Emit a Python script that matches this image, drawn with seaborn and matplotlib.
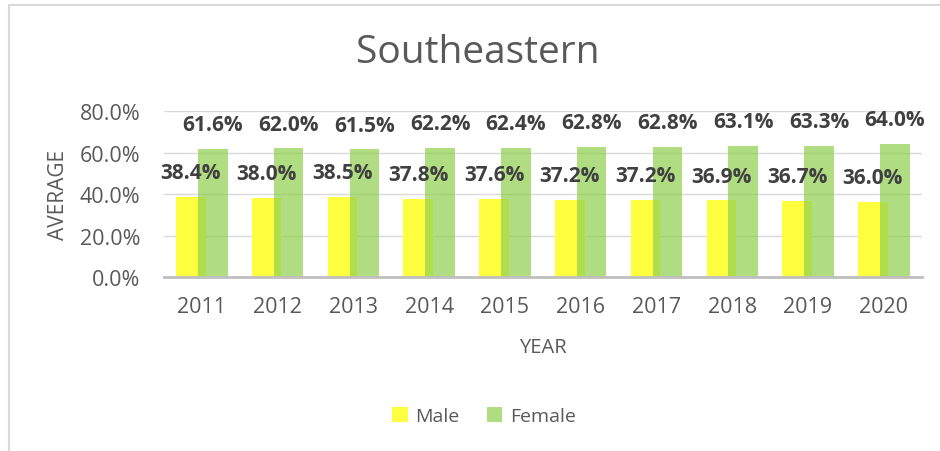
import pandas as pd
import matplotlib.pyplot as plt
import seaborn as sns
from matplotlib.lines import Line2D

# Data
years = ['2011', '2012', '2013', '2014', '2015', '2016', '2017', '2018', '2019', '2020']
male = [38.4, 38.0, 38.5, 37.8, 37.6, 37.2, 37.2, 36.9, 36.7, 36.0]
female = [61.6, 62.0, 61.5, 62.2, 62.4, 62.8, 62.8, 63.1, 63.3, 64.0]

df = pd.DataFrame({
    'Year': years * 2,
    'Value': male + female,
    'Sex': ['Male'] * len(years) + ['Female'] * len(years),
})

sns.set_style('white')
plt.rcParams['font.family'] = ['Open Sans', 'DejaVu Sans']

gray = '#595959'
fig = plt.figure(figsize=(9.4, 4.52), dpi=100)
ax = fig.add_axes([0.1745, 0.385, 0.806, 0.367])

sns.barplot(data=df, x='Year', y='Value', hue='Sex', palette=['#FFFF40', '#92D050'],
            width=0.58, saturation=1, ax=ax, legend=False, linewidth=0, edgecolor='none')

# make the bars overlap like the Excel original
bar_w = 0.39
for p in ax.patches:
    c = p.get_x() + p.get_width() / 2
    p.set_width(bar_w)
    p.set_x(c - bar_w / 2)
    p.set_linewidth(0)
for p in ax.containers[1]:
    p.set_alpha(0.72)

for cont in ax.containers:
    ax.bar_label(cont, labels=[f'{v:.1f}%' for v in cont.datavalues], padding=10,
                 fontsize=15, fontweight='bold', color='#404040')

ax.set_ylim(0, 80)
ax.set_xlim(-0.5, 9.5)
ax.set_yticks([0, 20, 40, 60, 80])
ax.set_yticklabels([f'{v:.1f}%' for v in [0, 20, 40, 60, 80]])
ax.yaxis.grid(True, color='#D9D9D9', linewidth=1)
ax.set_axisbelow(True)
for s in ['top', 'right', 'left']:
    ax.spines[s].set_visible(False)
ax.spines['bottom'].set_color('#BFBFBF')
ax.spines['bottom'].set_linewidth(2)
ax.tick_params(axis='both', length=0, labelsize=15.5, labelcolor=gray)
ax.tick_params(axis='x', pad=14)
ax.tick_params(axis='y', pad=17)
ax.set_ylabel('AVERAGE', fontsize=15, color=gray, labelpad=8)
ax.set_xlabel('YEAR', fontsize=14.5, color=gray, labelpad=14)

fig.text(0.508, 0.883, 'Southeastern', ha='center', va='center', fontsize=28, color=gray)

fig.legend([ax.containers[0], ax.containers[1]], ['Male', 'Female'], loc='center',
           bbox_to_anchor=(0.515, 0.078), ncol=2, frameon=False, fontsize=14,
           labelcolor=gray, handlelength=0.8, handleheight=0.8, handletextpad=0.4,
           columnspacing=1.4)

# light chart-area border (left and top)
fig.add_artist(Line2D([0.0095, 0.0095], [0, 0.986], color='#D9D9D9', linewidth=1.5))
fig.add_artist(Line2D([0.0095, 1.0], [0.986, 0.986], color='#D9D9D9', linewidth=1.5))

fig.savefig('out.png', dpi=100)
